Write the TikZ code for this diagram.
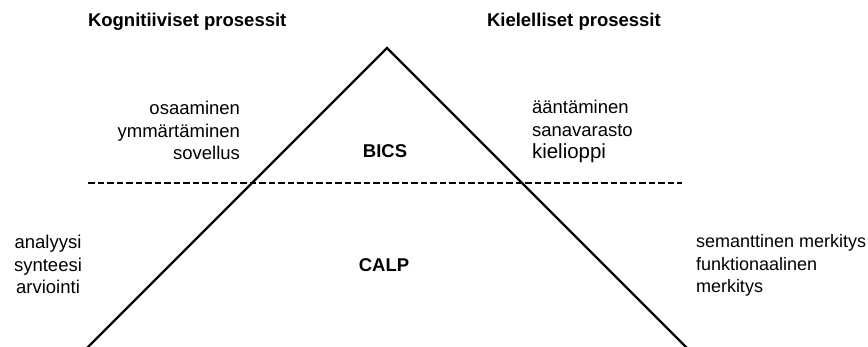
\documentclass[tikz,border=0pt]{standalone}
\usepackage{fontspec}
\setmainfont{Liberation Sans}
\begin{document}
\begin{tikzpicture}[x=1pt,y=-1pt,
  every node/.style={inner sep=0pt, outer sep=0pt},
  lbl/.style={font=\fontsize{18.5}{22.5}\selectfont},
  head/.style={font=\fontsize{18.5}{22.5}\selectfont\bfseries},
  edge/.style={line width=2.3pt, line join=miter},
  divider/.style={line width=2.8pt, dash pattern=on 6.5pt off 3pt}]
\useasboundingbox (0,0) rectangle (868,347);

% the triangle
\coordinate (apex) at (387,48);
\coordinate (bl) at (86,349);
\coordinate (br) at (688,349);
\draw[edge] (bl) -- (apex) -- (br);

% boundary between BICS and CALP
\coordinate (dl) at (88,183);
\coordinate (dr) at (682,183);
\draw[divider] (dl) -- (dr);

% column headings
\node[head, anchor=base west] (cog) at (88,27) {Kognitiiviset prosessit};
\node[head, anchor=base west] (lang) at (487,27) {Kielelliset prosessit};

% upper level (multi-line nodes are placed by their last baseline)
\node[lbl, anchor=base east, align=right] (cogA) at (240,160)
  {osaaminen\\ymmärtäminen\\sovellus};
\node[head, anchor=base] (bics) at (385,158) {BICS};
\node[lbl, anchor=base west, align=left] (langA) at (532,159)
  {ääntäminen\\sanavarasto\\{\fontsize{20.5}{22.5}\selectfont kielioppi}};

% lower level
\node[lbl, anchor=base, align=center] (cogB) at (48,294)
  {analyysi\\synteesi\\arviointi};
\node[head, anchor=base] (calp) at (384,272) {CALP};
\node[lbl, anchor=base west, align=left, font=\fontsize{18}{22.5}\selectfont] (langB) at (696,293)
  {semanttinen merkitys\\funktionaalinen\\merkitys};
\end{tikzpicture}
\end{document}
